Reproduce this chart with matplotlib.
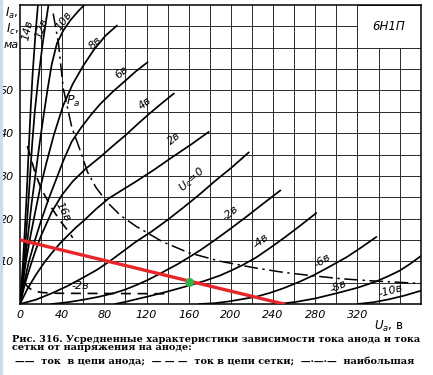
import matplotlib
matplotlib.use("Agg")
import matplotlib.pyplot as plt
from matplotlib.patches import Rectangle

plt.rcParams['font.family'] = ['DejaVu Sans']

# anode current curves, Ua (V) -> Ia (mA), one pair per grid voltage
ua_p14 = [0, 1.5, 3, 4.5, 6, 7.3, 8.6, 10.2, 12, 14.3, 17]
ia_p14 = [0, 5, 10.5, 17, 24, 31, 38, 46, 54, 62, 70]
ua_p12 = [0, 2, 4, 6, 8, 9.8, 11.7, 14, 17, 21.5, 27]
ia_p12 = [0, 5, 10.5, 17, 24, 31, 38, 45, 52, 61, 70]
ua_p10 = [0, 2.5, 5, 8, 11, 14.5, 18, 22, 26, 30, 35, 41, 48, 55, 61]
ia_p10 = [0, 5, 10.5, 17, 23.5, 30, 36.5, 43.5, 50, 56, 61, 64, 66.5, 68.5, 70]
ua_p8 = [0, 3, 6, 10, 14, 19, 25, 32, 41, 50, 60, 70, 81, 92]
ia_p8 = [0, 5.5, 10.5, 16, 21, 27, 33, 39.5, 46.5, 51.5, 55.8, 59.5, 62.8, 65.2]
ua_p6 = [0, 4, 8, 14, 20, 27, 34, 41, 49, 58, 67, 76, 88, 100, 110, 121]
ia_p6 = [0, 5, 9.5, 14.8, 19.5, 24.5, 29, 33.5, 38, 41.3, 44.2, 46.8, 49.7, 52.3, 54.5, 56.6]
ua_p4 = [0, 5, 10, 15, 20, 30, 40, 50, 62, 76, 88, 100, 111, 122, 134, 146]
ia_p4 = [0, 5, 9, 12.7, 16, 21.5, 25.6, 28.7, 31.6, 34.4, 37, 39.5, 42, 44.4, 46.9, 49.3]
ua_p2 = [0, 7, 15, 23, 30, 38, 46, 53, 60, 72, 84, 97, 109.5, 127, 144.5, 162, 179]
ia_p2 = [0, 3.5, 6.8, 9.7, 11.9, 14.2, 16.2, 17.9, 19.4, 22.2, 24.7, 26.7, 28.6, 31.4, 34.4, 37.3, 40.3]
ua_0 = [0, 15, 30, 45, 60, 73, 85, 97, 109.5, 125, 140, 154, 170, 185, 200, 217]
ia_0 = [0, 1, 2.5, 4.2, 6.2, 8, 10, 12.2, 14.5, 17, 19.7, 22.4, 25.6, 28.8, 31.8, 35.5]
ua_m2 = [30, 45, 60, 75, 90, 100, 110, 121, 132, 141, 150, 160, 171, 185, 200, 214, 228, 247]
ia_m2 = [0, 0.4, 1, 1.7, 2.6, 3.4, 4.4, 5.6, 7, 8.2, 9.4, 10.9, 12.6, 15, 17.7, 20.3, 23, 26.6]
ua_m4 = [90, 100, 110, 122, 135, 147, 160, 175, 190, 200, 211, 224, 237, 250, 265, 281]
ia_m4 = [0, 0.5, 1.1, 1.8, 2.6, 3.4, 4.3, 5.4, 6.7, 7.8, 9.1, 10.9, 13.1, 15.4, 18.2, 21.3]
ua_m6 = [170, 185, 198, 210, 224, 237, 250, 265, 279, 294, 310, 324, 338]
ia_m6 = [0, 0.2, 0.6, 1.1, 1.7, 2.6, 3.7, 5.2, 6.8, 8.8, 11, 13.3, 15.7]
ua_m8 = [240, 252, 262, 280, 300, 320, 338, 350, 360, 370, 380]
ia_m8 = [0, 0.2, 0.5, 1.3, 2.5, 3.8, 5.3, 6.6, 7.8, 9.4, 11.2]
ua_m10 = [320, 335, 350, 365, 380]
ia_m10 = [0, 0.4, 1.1, 2, 3.1]

# grid current (dashed)
ua_g16 = [7, 14, 20, 30, 38, 46, 50]
ia_g16 = [37, 31, 27, 22.5, 19.5, 17, 15.5]
ua_g2 = [4, 7, 10, 15, 20, 30, 40, 141]
ia_g2 = [5, 4.1, 3.5, 3, 2.7, 2.55, 2.5, 2.4]

# max anode dissipation (dash-dot)
ua_pa = [31.5, 36.5, 41, 49, 58, 64, 72, 82, 95, 110, 135, 160, 190, 224, 250, 278, 305, 335, 358, 380]
ia_pa = [68, 61, 50.5, 41.5, 35.3, 30.9, 27.3, 24, 20.8, 18.2, 14.6, 12, 10, 8.4, 7.4, 6.6, 5.9, 5.4, 5.1, 4.8]

# load line and operating point
ua_load = [0, 250]
ia_load = [15, 0]
ua_op, ia_op = 160, 5.2

x_ticks = [0, 40, 80, 120, 160, 200, 240, 280, 320]
y_ticks = [10, 20, 30, 40, 50]

fig = plt.figure(figsize=(4.33, 3.75), dpi=100)
fig.patch.set_facecolor('white')
fig.patches.append(Rectangle((0, 0), 3 / 433, 1, transform=fig.transFigure,
                             facecolor='#cddcec', edgecolor='none'))
ax = fig.add_axes([20 / 433, 71 / 375, 400.7 / 433, 299 / 375])
ax.set_xlim(0, 380)
ax.set_ylim(0, 70)

for x in range(20, 380, 20):
    ax.axvline(x, color='#2a2a2a', lw=0.7, zorder=1)
for y in range(5, 70, 5):
    ax.axhline(y, color='#2a2a2a', lw=0.7, zorder=1)
ax.add_patch(Rectangle((320, 60), 60, 10, facecolor='white', edgecolor='#2a2a2a',
                       lw=0.7, zorder=2))
ax.text(350, 65, '6Н1П', ha='center', va='center', fontsize=8.5,
        style='italic', zorder=3)

curves = [(ua_p14, ia_p14), (ua_p12, ia_p12), (ua_p10, ia_p10), (ua_p8, ia_p8),
          (ua_p6, ia_p6), (ua_p4, ia_p4), (ua_p2, ia_p2), (ua_0, ia_0),
          (ua_m2, ia_m2), (ua_m4, ia_m4), (ua_m6, ia_m6), (ua_m8, ia_m8),
          (ua_m10, ia_m10)]
for ua, ia in curves:
    ax.plot(ua, ia, color='black', lw=1.25, zorder=4,
            solid_joinstyle='round', solid_capstyle='round')

ax.plot(ua_g16, ia_g16, color='black', lw=1.2, ls=(0, (6, 4)), zorder=4)
ax.plot(ua_g2, ia_g2, color='black', lw=1.2, ls=(0, (6, 4)), zorder=4)
ax.plot(ua_pa, ia_pa, color='black', lw=1.1, ls=(0, (9, 3, 1.5, 3)), zorder=4)

ax.plot(ua_load, ia_load, color='#e8262a', lw=2.4, zorder=5)
ax.plot([ua_op], [ia_op], 'o', color='#33b34a', ms=5.5, zorder=6)

lab = dict(fontsize=8, style='italic', ha='center', va='center', zorder=5)
ax.text(7.2, 64, '14в', rotation=78, **lab)
ax.text(20.5, 64.5, '12в', rotation=72, **lab)
ax.text(42, 66.3, '10в', rotation=55, **lab)
ax.text(71, 61, '8в', rotation=45, **lab)
ax.text(96, 54.3, '6в', rotation=40, **lab)
ax.text(119, 47, '4в', rotation=40, **lab)
ax.text(146, 38.7, '2в', rotation=40, **lab)
ax.text(163, 29, '$U_c$=0', rotation=42, **lab)
ax.text(199, 21.3, '-2в', rotation=40, **lab)
ax.text(228, 14.8, '-4в', rotation=38, **lab)
ax.text(287, 10, '-6в', rotation=32, **lab)
ax.text(302, 4.1, '-8в', rotation=25, **lab)
ax.text(352, 3.0, '-10в', rotation=15, **lab)
ax.text(41, 21.5, '16в', rotation=-62, **lab)
ax.text(57, 4.2, '-2в', rotation=0, **lab)
ax.text(50, 47.5, '$P_а$', fontsize=9, ha='center', va='center', zorder=5)

for s in ax.spines.values():
    s.set_linewidth(1.1)
ax.set_xticks(x_ticks)
ax.set_xticklabels([str(v) for v in x_ticks], style='italic', fontsize=8)
ax.set_yticks(y_ticks)
ax.set_yticklabels([str(v) for v in y_ticks], style='italic', fontsize=8)
ax.tick_params(length=0, pad=4.5)
ax.text(350, -3.6, '$U_а$, в', ha='center', va='top', fontsize=8.5)
ax.text(-1.2, 68, '$I_а$,', ha='right', va='center', fontsize=8.5)
ax.text(-1.2, 64.3, '$I_с$,', ha='right', va='center', fontsize=8.5)
ax.text(-1.2, 60.6, 'ма', ha='right', va='center', fontsize=8, style='italic')

cap = dict(fontsize=7, fontweight='bold', family='DejaVu Serif', va='center')
fig.text(12 / 433, 1 - 339 / 375,
         'Рис. 316. Усредненные характеристики зависимости тока анода и тока', **cap)
fig.text(12 / 433, 1 - 348 / 375, 'сетки от напряжения на аноде:', **cap)
fig.text(15 / 433, 1 - 362 / 375,
         '——  ток  в цепи анода;  — — —  ток в цепи сетки;  —·—·—  наибольшая', **cap)

fig.savefig('out.png', dpi=100)
